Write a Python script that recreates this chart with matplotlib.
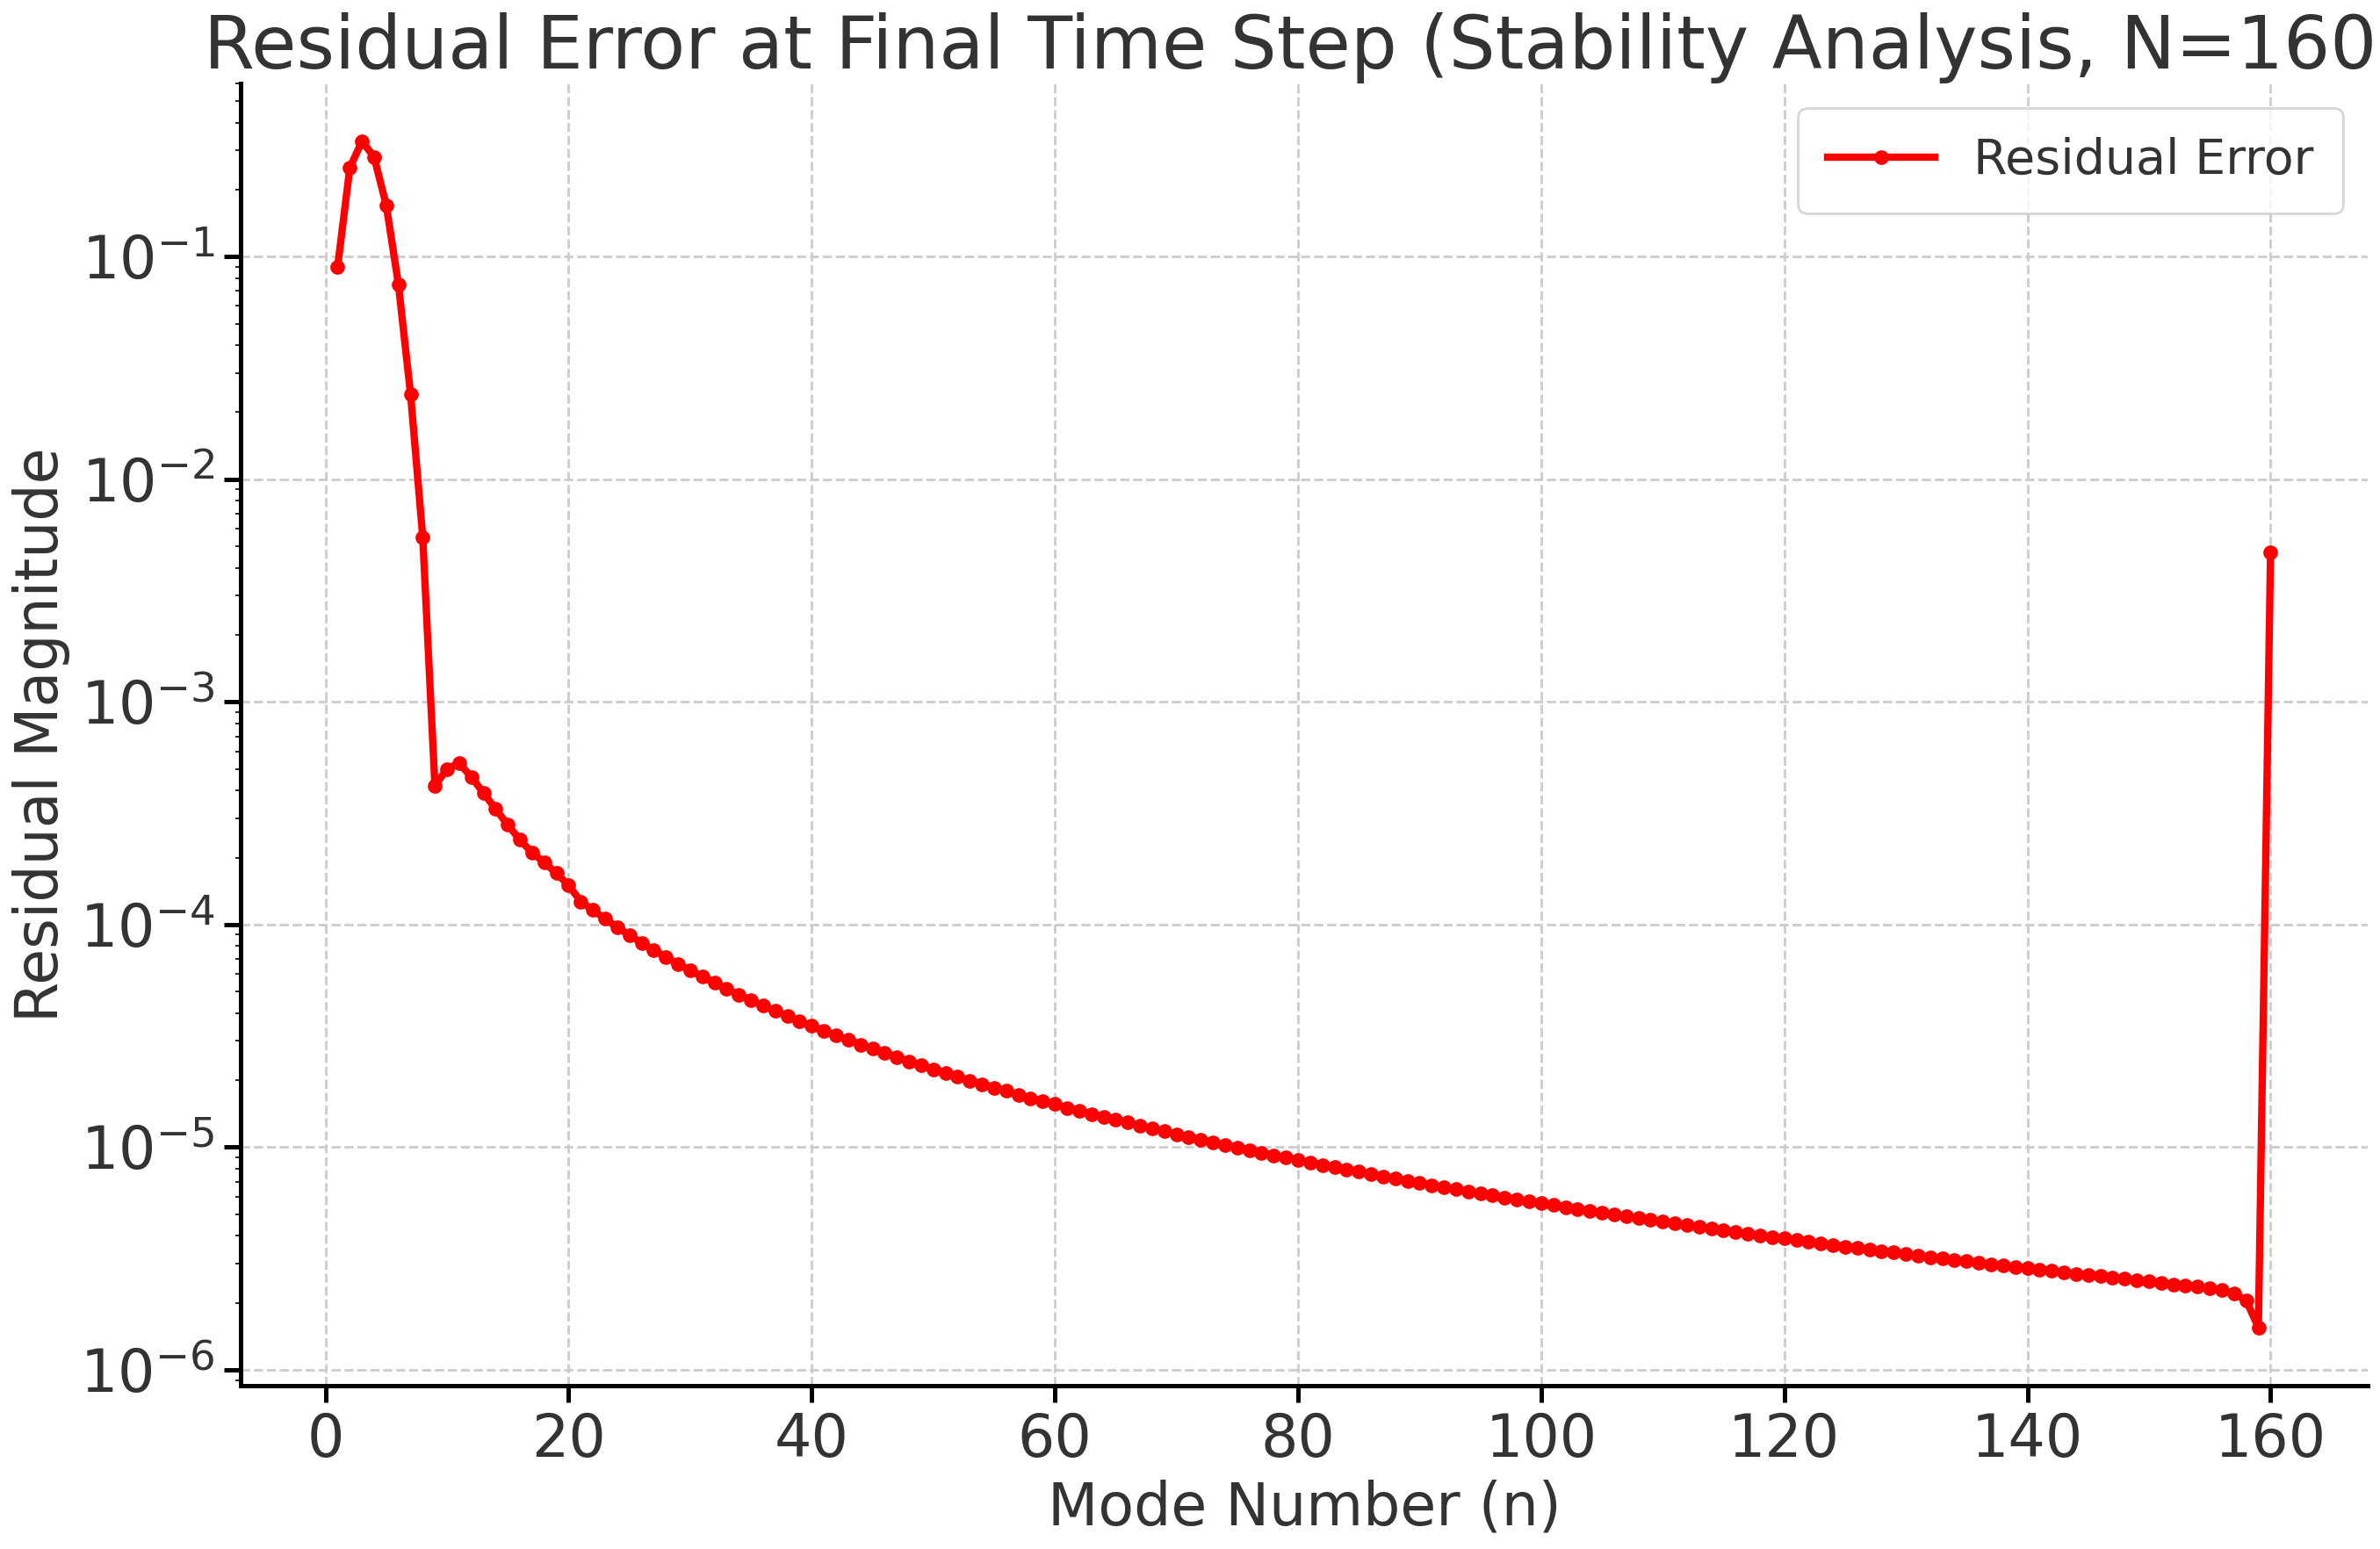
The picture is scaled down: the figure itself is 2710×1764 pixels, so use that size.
import matplotlib
matplotlib.use("Agg")
import matplotlib.pyplot as plt
import numpy as np

modes = list(range(1, 161))
head = [9.0e-2, 2.5e-1, 3.3e-1, 2.8e-1, 1.7e-1, 7.5e-2, 2.4e-2, 5.5e-3, 4.2e-4, 5.0e-4,
        5.3e-4, 4.6e-4, 3.9e-4, 3.3e-4, 2.8e-4, 2.4e-4, 2.1e-4, 1.9e-4, 1.7e-4, 1.5e-4]
tail_micro = [127,116,106,97.2,89.6,82.8,76.8,71.4,66.6,62.2,58.3,54.7,51.4,48.4,45.7,43.2,40.9,38.8,36.8,35.0,
              33.3,31.7,30.3,28.9,27.7,26.5,25.4,24.3,23.3,22.4,21.5,20.7,19.9,19.2,18.5,17.9,17.2,16.6,16.1,15.6,
              15.0,14.6,14.1,13.7,13.3,12.9,12.5,12.1,11.8,11.4,11.1,10.8,10.5,10.2,9.96,9.70,9.45,9.20,8.97,8.75,
              8.54,8.33,8.13,7.94,7.75,7.57,7.40,7.23,7.07,6.91,6.76,6.62,6.47,6.34,6.20,6.08,5.95,5.83,5.71,5.60,
              5.49,5.38,5.28,5.18,5.08,4.98,4.89,4.80,4.71,4.63,4.55,4.46,4.39,4.31,4.23,4.16,4.09,4.02,3.95,3.89,
              3.82,3.76,3.70,3.64,3.58,3.53,3.47,3.42,3.37,3.31,3.26,3.21,3.17,3.12,3.07,3.03,2.98,2.94,2.90,2.86,
              2.82,2.78,2.74,2.70,2.66,2.63,2.59,2.56,2.52,2.49,2.46,2.42,2.39,2.36,2.33,2.28,2.20,2.05,1.55,4700]
residual = head + [v * 1e-6 for v in tail_micro]

fig, ax = plt.subplots(figsize=(13.55, 8.82), dpi=200)
ax.semilogy(modes, residual, color="red", marker="o", markersize=5, linewidth=3, label="Residual Error")
ax.set_xlim(-7, 168)
ax.set_ylim(8.5e-7, 0.6)
ax.set_xticks(range(0, 161, 20))
ax.set_title("Residual Error at Final Time Step (Stability Analysis, N=160)", fontsize=30, color="#333333")
ax.set_xlabel("Mode Number (n)", fontsize=24, color="#333333")
ax.set_ylabel("Residual Magnitude", fontsize=24, color="#333333")
ax.tick_params(labelsize=24, width=1.8, length=7, labelcolor="#333333")
ax.grid(True, which="major", linestyle="--", color="#cccccc", linewidth=1.0)
for s in ("top", "right"):
    ax.spines[s].set_visible(False)
for s in ("left", "bottom"):
    ax.spines[s].set_linewidth(1.8)
leg = ax.legend(fontsize=20, loc="upper right", fancybox=True, handlelength=2.2, borderpad=0.6)
for t in leg.get_texts():
    t.set_color("#333333")
fig.tight_layout(pad=0.5)
fig.savefig("out.png", dpi=200)
